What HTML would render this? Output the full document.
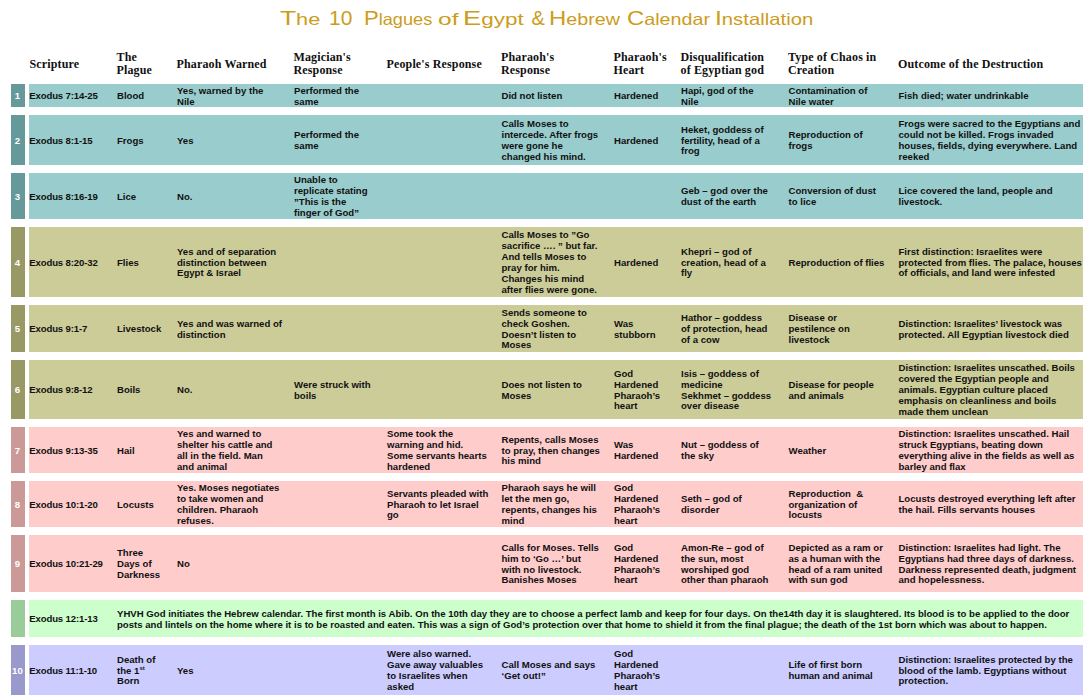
<!DOCTYPE html><html><head><meta charset="utf-8"><style>
html,body{margin:0;padding:0;background:#fff;width:1089px;height:699px;overflow:hidden;position:relative}
.tw{position:absolute;top:5.3px;height:26px;font-family:"Liberation Sans",sans-serif;font-size:20px;line-height:26px;color:#CC9C1C;white-space:nowrap}
.tw span{display:inline-block;transform-origin:0 0}
.tw i{font-style:normal;font-size:16.5px}
.h{position:absolute;top:46.5px;height:36px;display:flex;align-items:center;font-family:"Liberation Serif",serif;font-weight:bold;font-size:12px;line-height:13px;color:#111;white-space:nowrap;letter-spacing:0.14px}
.bg{position:absolute}
.c{position:absolute;display:flex;align-items:center;font-family:"Liberation Sans",sans-serif;font-weight:bold;font-size:9.6px;line-height:10.9px;color:#111;white-space:nowrap}
.n{position:absolute;left:11px;width:14px;display:flex;align-items:center;justify-content:center;font-family:"Liberation Sans",sans-serif;font-weight:bold;font-size:9.6px;color:#fff;margin-left:-0.6px}
sup{font-size:6px;line-height:0;vertical-align:4px}
</style></head><body>
<span class="tw" style="left:280.10px"><span style="transform:scaleX(1.3167)">T<i>h</i><i>e</i></span></span><span class="tw" style="left:328.65px"><span style="transform:scaleX(1.0476)">10</span></span><span class="tw" style="left:364.20px"><span style="transform:scaleX(1.1017)">P<i>l</i><i>a</i><i>g</i><i>u</i><i>e</i><i>s</i></span></span><span class="tw" style="left:438.42px"><span style="transform:scaleX(1.4846)"><i>o</i><i>f</i></span></span><span class="tw" style="left:463.28px"><span style="transform:scaleX(1.3605)">E<i>g</i><i>y</i><i>p</i><i>t</i></span></span><span class="tw" style="left:531.50px"><span style="transform:scaleX(1.0000)">&amp;</span></span><span class="tw" style="left:548.81px"><span style="transform:scaleX(1.1931)">H<i>e</i><i>b</i><i>r</i><i>e</i><i>w</i></span></span><span class="tw" style="left:627.21px"><span style="transform:scaleX(1.1941)">C<i>a</i><i>l</i><i>e</i><i>n</i><i>d</i><i>a</i><i>r</i></span></span><span class="tw" style="left:714.54px"><span style="transform:scaleX(1.2286)">I<i>n</i><i>s</i><i>t</i><i>a</i><i>l</i><i>l</i><i>a</i><i>t</i><i>i</i><i>o</i><i>n</i></span></span>
<div class="h" style="left:29.5px;margin-top:0px"><div>Scripture</div></div>
<div class="h" style="left:116.5px;margin-top:-0.7px"><div>The<br>Plague</div></div>
<div class="h" style="left:176.5px;margin-top:0px"><div>Pharaoh Warned</div></div>
<div class="h" style="left:293.5px;margin-top:-0.7px"><div>Magician&#39;s<br>Response</div></div>
<div class="h" style="left:386.5px;margin-top:0px"><div>People&#39;s Response</div></div>
<div class="h" style="left:501.0px;margin-top:-0.7px"><div>Pharaoh&#39;s<br>Response</div></div>
<div class="h" style="left:613.5px;margin-top:-0.7px"><div>Pharaoh&#39;s<br>Heart</div></div>
<div class="h" style="left:680.5px;margin-top:-0.7px"><div>Disqualification<br>of Egyptian god</div></div>
<div class="h" style="left:788.0px;margin-top:-0.7px"><div>Type of Chaos in<br>Creation</div></div>
<div class="h" style="left:898.0px;margin-top:0px"><div>Outcome of the Destruction</div></div>
<div class="bg" style="left:11px;top:84px;width:14px;height:23px;background:#669999"></div><div class="bg" style="left:29px;top:84px;width:1054px;height:23px;background:#99CCCC"></div>
<div class="n" style="top:84px;height:23px">1</div><div class="c" style="left:29.3px;top:85px;height:23px;letter-spacing:-0.15px"><div>Exodus 7:14-25</div></div><div class="c" style="left:117px;top:85px;height:23px"><div>Blood</div></div><div class="c" style="left:177px;top:85px;height:23px"><div>Yes, warned by the<br>Nile</div></div><div class="c" style="left:294px;top:85px;height:23px"><div>Performed the<br>same</div></div><div class="c" style="left:501.5px;top:85px;height:23px"><div>Did not listen</div></div><div class="c" style="left:614px;top:85px;height:23px"><div>Hardened</div></div><div class="c" style="left:681px;top:85px;height:23px"><div>Hapi, god of the<br>Nile</div></div><div class="c" style="left:788.5px;top:85px;height:23px"><div>Contamination of<br>Nile water</div></div><div class="c" style="left:898.5px;top:85px;height:23px"><div>Fish died; water undrinkable</div></div>
<div class="bg" style="left:11px;top:115px;width:14px;height:50px;background:#669999"></div><div class="bg" style="left:29px;top:115px;width:1054px;height:50px;background:#99CCCC"></div>
<div class="n" style="top:115px;height:50px">2</div><div class="c" style="left:29.3px;top:116px;height:50px;letter-spacing:-0.15px"><div>Exodus 8:1-15</div></div><div class="c" style="left:117px;top:116px;height:50px"><div>Frogs</div></div><div class="c" style="left:177px;top:116px;height:50px"><div>Yes</div></div><div class="c" style="left:294px;top:116px;height:50px"><div>Performed the<br>same</div></div><div class="c" style="left:501.5px;top:116px;height:50px"><div>Calls Moses to<br>intercede. After frogs<br>were gone he<br>changed his mind.</div></div><div class="c" style="left:614px;top:116px;height:50px"><div>Hardened</div></div><div class="c" style="left:681px;top:116px;height:50px"><div>Heket, goddess of<br>fertility, head of a<br>frog</div></div><div class="c" style="left:788.5px;top:116px;height:50px"><div>Reproduction of<br>frogs</div></div><div class="c" style="left:898.5px;top:116px;height:50px"><div>Frogs were sacred to the Egyptians and<br>could not be killed. Frogs invaded<br>houses, fields, dying everywhere. Land<br>reeked</div></div>
<div class="bg" style="left:11px;top:173px;width:14px;height:46px;background:#669999"></div><div class="bg" style="left:29px;top:173px;width:1054px;height:46px;background:#99CCCC"></div>
<div class="n" style="top:173px;height:46px">3</div><div class="c" style="left:29.3px;top:174px;height:46px;letter-spacing:-0.15px"><div>Exodus 8:16-19</div></div><div class="c" style="left:117px;top:174px;height:46px"><div>Lice</div></div><div class="c" style="left:177px;top:174px;height:46px"><div>No.</div></div><div class="c" style="left:294px;top:174px;height:46px"><div>Unable to<br>replicate stating<br>”This is the<br>finger of God”</div></div><div class="c" style="left:681px;top:174px;height:46px"><div>Geb – god over the<br>dust of the earth</div></div><div class="c" style="left:788.5px;top:174px;height:46px"><div>Conversion of dust<br>to lice</div></div><div class="c" style="left:898.5px;top:174px;height:46px"><div>Lice covered the land, people and<br>livestock.</div></div>
<div class="bg" style="left:11px;top:227px;width:14px;height:70px;background:#999966"></div><div class="bg" style="left:29px;top:227px;width:1054px;height:70px;background:#CCCC99"></div>
<div class="n" style="top:227px;height:70px">4</div><div class="c" style="left:29.3px;top:228px;height:70px;letter-spacing:-0.15px"><div>Exodus 8:20-32</div></div><div class="c" style="left:117px;top:228px;height:70px"><div>Flies</div></div><div class="c" style="left:177px;top:228px;height:70px"><div>Yes and of separation<br>distinction between<br>Egypt &amp; Israel</div></div><div class="c" style="left:501.5px;top:228px;height:70px"><div>Calls Moses to ”Go<br>sacrifice …. ” but far.<br>And tells Moses to<br>pray for him.<br>Changes his mind<br>after flies were gone.</div></div><div class="c" style="left:614px;top:228px;height:70px"><div>Hardened</div></div><div class="c" style="left:681px;top:228px;height:70px"><div>Khepri – god of<br>creation, head of a<br>fly</div></div><div class="c" style="left:788.5px;top:228px;height:70px"><div>Reproduction of flies</div></div><div class="c" style="left:898.5px;top:228px;height:70px"><div>First distinction: Israelites were<br>protected from flies. The palace, houses<br>of officials, and land were infested</div></div>
<div class="bg" style="left:11px;top:305px;width:14px;height:47px;background:#999966"></div><div class="bg" style="left:29px;top:305px;width:1054px;height:47px;background:#CCCC99"></div>
<div class="n" style="top:305px;height:47px">5</div><div class="c" style="left:29.3px;top:306px;height:47px;letter-spacing:-0.15px"><div>Exodus 9:1-7</div></div><div class="c" style="left:117px;top:306px;height:47px"><div>Livestock</div></div><div class="c" style="left:177px;top:306px;height:47px"><div>Yes and was warned of<br>distinction</div></div><div class="c" style="left:501.5px;top:306px;height:47px"><div>Sends someone to<br>check Goshen.<br>Doesn’t listen to<br>Moses</div></div><div class="c" style="left:614px;top:306px;height:47px"><div>Was<br>stubborn</div></div><div class="c" style="left:681px;top:306px;height:47px"><div>Hathor – goddess<br>of protection, head<br>of a cow</div></div><div class="c" style="left:788.5px;top:306px;height:47px"><div>Disease or<br>pestilence on<br>livestock</div></div><div class="c" style="left:898.5px;top:306px;height:47px"><div>Distinction: Israelites’ livestock was<br>protected. All Egyptian livestock died</div></div>
<div class="bg" style="left:11px;top:360px;width:14px;height:59px;background:#999966"></div><div class="bg" style="left:29px;top:360px;width:1054px;height:59px;background:#CCCC99"></div>
<div class="n" style="top:360px;height:59px">6</div><div class="c" style="left:29.3px;top:361px;height:59px;letter-spacing:-0.15px"><div>Exodus 9:8-12</div></div><div class="c" style="left:117px;top:361px;height:59px"><div>Boils</div></div><div class="c" style="left:177px;top:361px;height:59px"><div>No.</div></div><div class="c" style="left:294px;top:361px;height:59px"><div>Were struck with<br>boils</div></div><div class="c" style="left:501.5px;top:361px;height:59px"><div>Does not listen to<br>Moses</div></div><div class="c" style="left:614px;top:361px;height:59px"><div>God<br>Hardened<br>Pharaoh’s<br>heart</div></div><div class="c" style="left:681px;top:361px;height:59px"><div>Isis – goddess of<br>medicine<br>Sekhmet – goddess<br>over disease</div></div><div class="c" style="left:788.5px;top:361px;height:59px"><div>Disease for people<br>and animals</div></div><div class="c" style="left:898.5px;top:361px;height:59px"><div>Distinction: Israelites unscathed. Boils<br>covered the Egyptian people and<br>animals. Egyptian culture placed<br>emphasis on cleanliness and boils<br>made them unclean</div></div>
<div class="bg" style="left:11px;top:427px;width:14px;height:46px;background:#CC9999"></div><div class="bg" style="left:29px;top:427px;width:1054px;height:46px;background:#FFCCCC"></div>
<div class="n" style="top:427px;height:46px">7</div><div class="c" style="left:29.3px;top:428px;height:46px;letter-spacing:-0.15px"><div>Exodus 9:13-35</div></div><div class="c" style="left:117px;top:428px;height:46px"><div>Hail</div></div><div class="c" style="left:177px;top:428px;height:46px"><div>Yes and warned to<br>shelter his cattle and<br>all in the field. Man<br>and animal</div></div><div class="c" style="left:387px;top:428px;height:46px"><div>Some took the<br>warning and hid.<br>Some servants hearts<br>hardened</div></div><div class="c" style="left:501.5px;top:428px;height:46px"><div>Repents, calls Moses<br>to pray, then changes<br>his mind</div></div><div class="c" style="left:614px;top:428px;height:46px"><div>Was<br>Hardened</div></div><div class="c" style="left:681px;top:428px;height:46px"><div>Nut – goddess of<br>the sky</div></div><div class="c" style="left:788.5px;top:428px;height:46px"><div>Weather</div></div><div class="c" style="left:898.5px;top:428px;height:46px"><div>Distinction: Israelites unscathed. Hail<br>struck Egyptians, beating down<br>everything alive in the fields as well as<br>barley and flax</div></div>
<div class="bg" style="left:11px;top:481px;width:14px;height:46px;background:#CC9999"></div><div class="bg" style="left:29px;top:481px;width:1054px;height:46px;background:#FFCCCC"></div>
<div class="n" style="top:481px;height:46px">8</div><div class="c" style="left:29.3px;top:482px;height:46px;letter-spacing:-0.15px"><div>Exodus 10:1-20</div></div><div class="c" style="left:117px;top:482px;height:46px"><div>Locusts</div></div><div class="c" style="left:177px;top:482px;height:46px"><div>Yes. Moses negotiates<br>to take women and<br>children. Pharaoh<br>refuses.</div></div><div class="c" style="left:387px;top:482px;height:46px"><div>Servants pleaded with<br>Pharaoh to let Israel<br>go</div></div><div class="c" style="left:501.5px;top:482px;height:46px"><div>Pharaoh says he will<br>let the men go,<br>repents, changes his<br>mind</div></div><div class="c" style="left:614px;top:482px;height:46px"><div>God<br>Hardened<br>Pharaoh’s<br>heart</div></div><div class="c" style="left:681px;top:482px;height:46px"><div>Seth – god of<br>disorder</div></div><div class="c" style="left:788.5px;top:482px;height:46px"><div>Reproduction &nbsp;&amp;<br>organization of<br>locusts</div></div><div class="c" style="left:898.5px;top:482px;height:46px"><div>Locusts destroyed everything left after<br>the hail. Fills servants houses</div></div>
<div class="bg" style="left:11px;top:535px;width:14px;height:57px;background:#CC9999"></div><div class="bg" style="left:29px;top:535px;width:1054px;height:57px;background:#FFCCCC"></div>
<div class="n" style="top:535px;height:57px">9</div><div class="c" style="left:29.3px;top:536px;height:57px;letter-spacing:-0.15px"><div>Exodus 10:21-29</div></div><div class="c" style="left:117px;top:536px;height:57px"><div>Three<br>Days of<br>Darkness</div></div><div class="c" style="left:177px;top:536px;height:57px"><div>No</div></div><div class="c" style="left:501.5px;top:536px;height:57px"><div>Calls for Moses. Tells<br>him to ‘Go …’ but<br>with no livestock.<br>Banishes Moses</div></div><div class="c" style="left:614px;top:536px;height:57px"><div>God<br>Hardened<br>Pharaoh’s<br>heart</div></div><div class="c" style="left:681px;top:536px;height:57px"><div>Amon-Re – god of<br>the sun, most<br>worshiped god<br>other than pharaoh</div></div><div class="c" style="left:788.5px;top:536px;height:57px"><div>Depicted as a ram or<br>as a human with the<br>head of a ram united<br>with sun god</div></div><div class="c" style="left:898.5px;top:536px;height:57px"><div>Distinction: Israelites had light. The<br>Egyptians had three days of darkness.<br>Darkness represented death, judgment<br>and hopelessness.</div></div>
<div class="bg" style="left:11px;top:600px;width:14px;height:37px;background:#99CC99"></div><div class="bg" style="left:29px;top:600px;width:1054px;height:37px;background:#CCFFCC"></div>
<div class="c" style="left:29.3px;top:601px;height:37px;letter-spacing:-0.15px"><div>Exodus 12:1-13</div></div><div class="c" style="left:117px;top:601px;height:37px"><div>YHVH God initiates the Hebrew calendar. The first month is Abib. On the 10th day they are to choose a perfect lamb and keep for four days. On the14th day it is slaughtered. Its blood is to be applied to the door<br>posts and lintels on the home where it is to be roasted and eaten. This was a sign of God’s protection over that home to shield it from the final plague; the death of the 1st born which was about to happen.</div></div>
<div class="bg" style="left:11px;top:645px;width:14px;height:50px;background:#9999CC"></div><div class="bg" style="left:29px;top:645px;width:1054px;height:50px;background:#CCCCFF"></div>
<div class="n" style="top:645px;height:50px">10</div><div class="c" style="left:29.3px;top:646px;height:50px;letter-spacing:-0.15px"><div>Exodus 11:1-10</div></div><div class="c" style="left:117px;top:646px;height:50px"><div>Death of<br>the 1<sup>st</sup><br>Born</div></div><div class="c" style="left:177px;top:646px;height:50px"><div>Yes</div></div><div class="c" style="left:387px;top:646px;height:50px"><div>Were also warned.<br>Gave away valuables<br>to Israelites when<br>asked</div></div><div class="c" style="left:501.5px;top:646px;height:50px"><div>Call Moses and says<br>‘Get out!”</div></div><div class="c" style="left:614px;top:646px;height:50px"><div>God<br>Hardened<br>Pharaoh’s<br>heart</div></div><div class="c" style="left:788.5px;top:646px;height:50px"><div>Life of first born<br>human and animal</div></div><div class="c" style="left:898.5px;top:646px;height:50px"><div>Distinction: Israelites protected by the<br>blood of the lamb. Egyptians without<br>protection.</div></div>
</body></html>
